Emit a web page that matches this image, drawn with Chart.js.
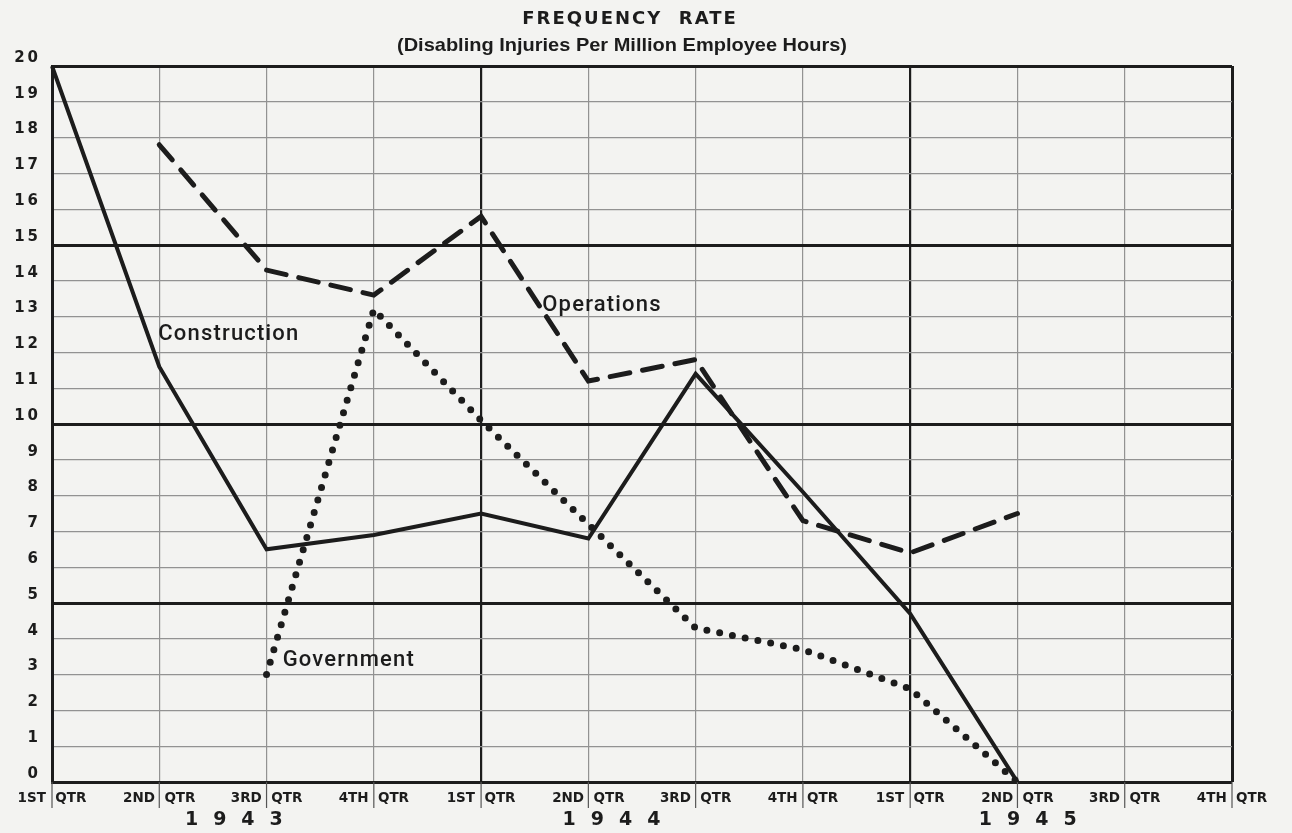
<!DOCTYPE html>
<html><head><meta charset="utf-8">
<script src="https://cdn.jsdelivr.net/npm/chart.js@4.4.1/dist/chart.umd.min.js"></script>
<style>html,body{margin:0;padding:0;background:#f3f3f1;}#wrap{width:1292px;height:833px;}</style>
</head><body><div id="wrap"><canvas id="c" width="1292" height="833"></canvas></div>
<script>
// ---- data ----
const quarters = ["1ST  QTR","2ND  QTR","3RD  QTR","4TH  QTR","1ST  QTR","2ND  QTR","3RD  QTR","4TH  QTR","1ST  QTR","2ND  QTR","3RD  QTR","4TH  QTR"];
const years = ["1943","1944","1945"];
const construction = [20, 11.6, 6.5, 6.9, 7.5, 6.8, 11.4, 8.1, 4.7, 0, null, null];
const operations   = [null, 17.8, 14.3, 13.6, 15.8, 11.2, 11.8, 7.3, 6.4, 7.5, null, null];
const government   = [null, null, 3.0, 13.2, 10.1, 7.2, 4.3, 3.7, 2.6, 0, null, null];
const seriesNames = ["Construction","Operations","Government"];
const titleText = "FREQUENCY  RATE";
const subtitleText = "(Disabling Injuries Per Million Employee Hours)";

const INK = '#1c1c1c';
const PAPER = '#f3f3f1';

const decor = {
  id: 'decor',
  beforeDraw(chart){
    const c = chart.ctx; c.save(); c.fillStyle = PAPER; c.fillRect(0,0,chart.width,chart.height); c.restore();
  },
  afterDraw(chart){
    const {ctx, scales:{x, y}} = chart;
    const px = v => { const p0 = x.getPixelForValue(0), p1 = x.getPixelForValue(1); return p0 + v*(p1-p0); };
    ctx.save();
    ctx.fillStyle = INK;
    ctx.textBaseline = 'middle';
    // title
    ctx.font = 'bold 18px "DejaVu Sans"';
    ctx.textAlign = 'center';
    ctx.letterSpacing = '2px';
    ctx.fillText(titleText, 630, 19);
    ctx.letterSpacing = '0px';
    // subtitle (condensed)
    ctx.font = 'bold 19px "Liberation Sans"';
    const w = ctx.measureText(subtitleText).width;
    ctx.save();
    ctx.translate(622, 46);
    ctx.scale(450 / w, 1);
    ctx.fillText(subtitleText, 0, 0);
    ctx.restore();
    // short marks through the quarter labels
    ctx.strokeStyle = '#555';
    ctx.lineWidth = 1.2;
    for (let i = 0; i < quarters.length; i++) {
      const xx = x.getPixelForValue(i);
      ctx.beginPath(); ctx.moveTo(xx, y.bottom); ctx.lineTo(xx, y.bottom + 26); ctx.stroke();
    }
    // years
    ctx.font = 'bold 19px "DejaVu Sans"';
    ctx.letterSpacing = '15px';
    ctx.textAlign = 'center';
    const yPos = [1.7, 5.22, 9.1];
    years.forEach((t, i) => ctx.fillText(t, px(yPos[i]) + 7, 820));
    // series labels
    ctx.font = '500 22px "Roboto"';
    ctx.letterSpacing = '1.2px';
    ctx.textAlign = 'left';
    const lab = [[0.99, 12.5], [4.57, 13.3], [2.15, 3.4]];
    seriesNames.forEach((t, i) => ctx.fillText(t, px(lab[i][0]), y.getPixelForValue(lab[i][1])));
    ctx.restore();
  }
};

new Chart(document.getElementById('c'), {
  type: 'line',
  data: {
    labels: quarters,
    datasets: [
      { label: seriesNames[0], data: construction, borderColor: INK, borderWidth: 4, pointRadius: 0, tension: 0, borderJoinStyle: 'miter' },
      { label: seriesNames[1], data: operations, borderColor: INK, borderWidth: 5, pointRadius: 0, tension: 0, borderDash: [20, 13], borderCapStyle: 'round' },
      { label: seriesNames[2], data: government, borderColor: INK, borderWidth: 7, pointRadius: 0, tension: 0, borderDash: [0, 13], borderCapStyle: 'round' }
    ]
  },
  options: {
    responsive: false, animation: false, devicePixelRatio: 1,
    layout: { padding: { top: 66, right: 60, left: 0, bottom: 0 } },
    plugins: { legend: { display: false }, title: { display: false }, tooltip: { enabled: false } },
    scales: {
      x: {
        type: 'category', offset: false,
        grid: {
          drawTicks: false,
          color: c => (c.index % 4 === 0 || c.index === 11) ? INK : '#929292',
          lineWidth: c => (c.index === 0 || c.index === 11) ? 3 : (c.index % 4 === 0 ? 2.2 : 1.2)
        },
        border: { display: false },
        ticks: { font: { family: 'DejaVu Sans', weight: 'bold', size: 13.5 }, color: INK, padding: 8, maxRotation: 0, autoSkip: false },
        afterFit: s => { s.height = 51; }
      },
      y: {
        min: 0, max: 20,
        grid: {
          drawTicks: false,
          color: c => (c.tick.value % 5 === 0) ? INK : '#929292',
          lineWidth: c => (c.tick.value % 5 === 0) ? 3 : 1.2
        },
        border: { display: true, width: 3, color: INK },
        ticks: { stepSize: 1, font: { family: 'DejaVu Sans', weight: 'bold', size: 15 }, color: INK, padding: 14, labelOffset: -8,
          callback: v => String(v).split('').join('\u2009') },
        afterFit: s => { s.width = 52; }
      }
    }
  },
  plugins: [decor]
});
</script>
</body></html>
